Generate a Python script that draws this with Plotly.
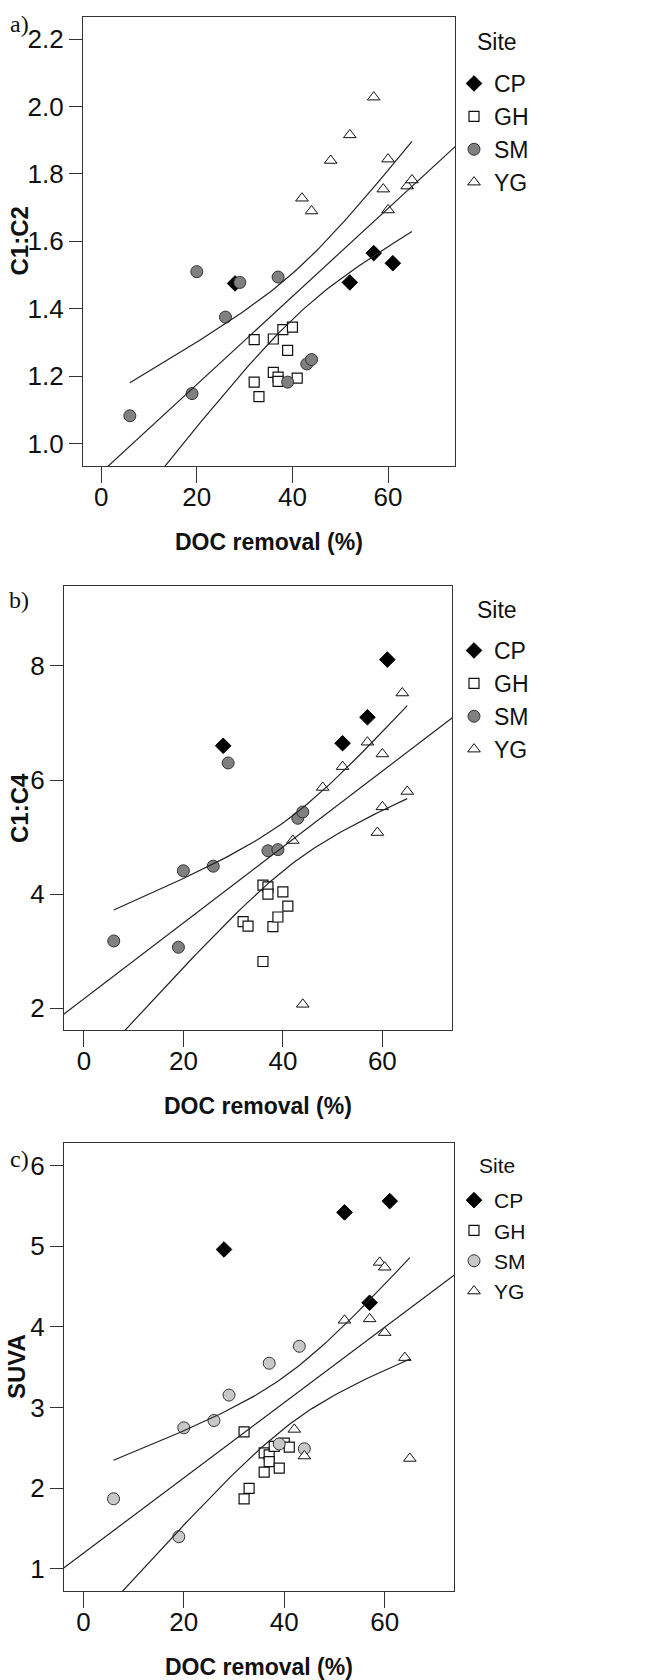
import numpy as np
import plotly.graph_objects as go

# ---------------- data ----------------
sites = ["CP", "GH", "SM", "YG"]

# a) C1:C2
cp_x_a = [28, 52, 57, 61]
cp_y_a = [1.475, 1.478, 1.565, 1.535]
gh_x_a = [32, 32, 33, 36, 36, 37, 37, 38, 39, 40, 41]
gh_y_a = [1.308, 1.182, 1.139, 1.310, 1.211, 1.197, 1.184, 1.338, 1.276, 1.345, 1.194]
sm_x_a = [6, 19, 20, 26, 29, 37, 39, 43, 44]
sm_y_a = [1.082, 1.148, 1.510, 1.375, 1.478, 1.494, 1.182, 1.236, 1.249]
yg_x_a = [42, 44, 48, 52, 57, 59, 60, 60, 64, 65]
yg_y_a = [1.728, 1.690, 1.840, 1.916, 2.028, 1.755, 1.844, 1.693, 1.764, 1.782]

# b) C1:C4
cp_x_b = [28, 52, 57, 61]
cp_y_b = [6.60, 6.645, 7.10, 8.11]
gh_x_b = [32, 33, 36, 36, 37, 37, 38, 39, 40, 41]
gh_y_b = [3.52, 3.44, 2.82, 4.157, 4.128, 4.00, 3.43, 3.60, 4.04, 3.79]
sm_x_b = [6, 19, 20, 26, 29, 37, 39, 43, 44]
sm_y_b = [3.18, 3.07, 4.41, 4.49, 6.30, 4.76, 4.78, 5.33, 5.44]
yg_x_b = [42, 44, 48, 52, 57, 59, 60, 60, 64, 65]
yg_y_b = [4.94, 2.07, 5.87, 6.235, 6.663, 5.08, 6.457, 5.53, 7.525, 5.80]

# c) SUVA
cp_x_c = [28, 52, 57, 61]
cp_y_c = [4.96, 5.42, 4.30, 5.56]
gh_x_c = [32, 32, 33, 36, 36, 37, 37, 38, 39, 40, 41]
gh_y_c = [2.70, 1.87, 2.00, 2.44, 2.20, 2.415, 2.33, 2.52, 2.25, 2.56, 2.51]
sm_x_c = [6, 19, 20, 26, 29, 37, 39, 43, 44]
sm_y_c = [1.87, 1.40, 2.75, 2.84, 3.155, 3.55, 2.55, 3.76, 2.49]
yg_x_c = [42, 44, 52, 57, 59, 60, 60, 64, 65]
yg_y_c = [2.73, 2.40, 4.083, 4.10, 4.80, 4.74, 3.93, 3.62, 2.37]

panel_labels = ["a)", "b)", "c)"]
y_titles = ["C1:C2", "C1:C4", "SUVA"]
x_title = "DOC removal (%)"
legend_title = "Site"
x_ticks = [0, 20, 40, 60]
y_ticks_a = [1.0, 1.2, 1.4, 1.6, 1.8, 2.0, 2.2]
y_ticks_b = [2, 4, 6, 8]
y_ticks_c = [1, 2, 3, 4, 5, 6]

# ---------------- style ----------------
SANS = "Liberation Sans, Arial, sans-serif"
SERIF = "Liberation Serif, Times New Roman, serif"
W, H = 645, 1680

# plot boxes in pixels: (left, top, right, bottom)
boxes = [(83, 17, 455, 466), (64, 586, 452, 1030), (64, 1143, 454, 1591)]
xranges = [[-3.8, 74.0], [-4.0, 74.0], [-3.86, 73.8]]
yranges = [[0.933, 2.266], [1.62, 9.40], [0.727, 6.28]]
sm_fill = ["#808080", "#808080", "#c8c8c8"]
site_title_y = [42, 610, 1165]
legend_tops = [62, 629, 1180]
legend_fonts = [23, 23, 21]
label_y = [24, 600, 1159]


def px_x(p):
    return p / W


def px_y(p):
    return 1 - p / H


def tcrit(df):
    z = 1.959964
    return z + (z**3 + z) / (4 * df) + (5 * z**5 + 16 * z**3 + 3 * z) / (96 * df**2)


def fit_lines(xs, ys, xr):
    x = np.asarray(xs, float)
    y = np.asarray(ys, float)
    n = len(x)
    b, a = np.polyfit(x, y, 1)
    resid = y - (a + b * x)
    s = np.sqrt(np.sum(resid**2) / (n - 2))
    sxx = np.sum((x - x.mean()) ** 2)
    t = tcrit(n - 2)
    xg = np.linspace(x.min(), x.max(), 80)
    se = s * np.sqrt(1 / n + (xg - x.mean()) ** 2 / sxx)
    yg = a + b * xg
    xl = np.array([xr[0] - 5, xr[1] + 5])
    return xl, a + b * xl, xg, yg + t * se, yg - t * se


panels = [
    dict(cp=(cp_x_a, cp_y_a), gh=(gh_x_a, gh_y_a), sm=(sm_x_a, sm_y_a), yg=(yg_x_a, yg_y_a), yt=y_ticks_a, fmt=".1f"),
    dict(cp=(cp_x_b, cp_y_b), gh=(gh_x_b, gh_y_b), sm=(sm_x_b, sm_y_b), yg=(yg_x_b, yg_y_b), yt=y_ticks_b, fmt="d"),
    dict(cp=(cp_x_c, cp_y_c), gh=(gh_x_c, gh_y_c), sm=(sm_x_c, sm_y_c), yg=(yg_x_c, yg_y_c), yt=y_ticks_c, fmt="d"),
]

fig = go.Figure()
annotations = []

for i, p in enumerate(panels):
    sfx = "" if i == 0 else str(i + 1)
    xa, ya = "x" + sfx, "y" + sfx
    leg = "legend" + sfx
    common = dict(xaxis=xa, yaxis=ya, mode="markers", legend=leg)
    fig.add_trace(go.Scatter(x=p["cp"][0], y=p["cp"][1], name=sites[0],
                             marker=dict(symbol="diamond", size=12, color="black",
                                         line=dict(color="black", width=1)), **common))
    fig.add_trace(go.Scatter(x=p["gh"][0], y=p["gh"][1], name=sites[1],
                             marker=dict(symbol="square", size=10, color="white",
                                         line=dict(color="#111", width=1.2)), **common))
    fig.add_trace(go.Scatter(x=p["sm"][0], y=p["sm"][1], name=sites[2],
                             marker=dict(symbol="circle", size=12, color=sm_fill[i],
                                         line=dict(color="#333", width=1)), **common))
    fig.add_trace(go.Scatter(x=p["yg"][0], y=p["yg"][1], name=sites[3],
                             marker=dict(symbol="triangle-up", size=11, color="white",
                                         line=dict(color="#111", width=1)), **common))
    allx = p["cp"][0] + p["gh"][0] + p["sm"][0] + p["yg"][0]
    ally = p["cp"][1] + p["gh"][1] + p["sm"][1] + p["yg"][1]
    xl, yl, xg, yu, ylo = fit_lines(allx, ally, xranges[i])
    for xx, yy in [(xl, yl), (xg, yu), (xg, ylo)]:
        fig.add_trace(go.Scatter(x=xx, y=yy, xaxis=xa, yaxis=ya, mode="lines",
                                 line=dict(color="#222", width=1.2), showlegend=False,
                                 hoverinfo="skip"))

    L, T, R, B = boxes[i]
    axcommon = dict(showline=True, linecolor="#333", linewidth=1.2, mirror=True,
                    ticks="outside", tickcolor="#333", tickwidth=1.2, showgrid=False,
                    zeroline=False, tickfont=dict(family=SANS, size=26, color="#111"))
    fig.update_layout(**{
        "xaxis" + sfx: dict(domain=[px_x(L), px_x(R)], range=xranges[i], anchor=ya,
                            tickvals=x_ticks, ticklen=16, ticklabelstandoff=-8, **axcommon),
        "yaxis" + sfx: dict(domain=[px_y(B), px_y(T)], range=yranges[i], anchor=xa,
                            tickvals=p["yt"], tickformat=p["fmt"], ticklen=13, **axcommon),
        leg: dict(font=dict(family=SANS, size=legend_fonts[i], color="#111"),
                  x=px_x(454), y=px_y(legend_tops[i]), xanchor="left", yanchor="top",
                  bgcolor="rgba(0,0,0,0)", borderwidth=0, tracegroupgap=0),
    })

    # legend title
    annotations.append(dict(text=legend_title, x=px_x(497), y=px_y(site_title_y[i]),
                            xref="paper", yref="paper", showarrow=False,
                            xanchor="center", yanchor="middle",
                            font=dict(family=SANS, size=legend_fonts[i], color="#111")))
    # panel label
    annotations.append(dict(text=panel_labels[i], x=px_x(19), y=px_y(label_y[i]),
                            xref="paper", yref="paper", showarrow=False,
                            xanchor="center", yanchor="middle",
                            font=dict(family=SERIF, size=24, color="#111")))
    # y title
    annotations.append(dict(text="<b>%s</b>" % y_titles[i], x=px_x(19 if i < 2 else 16),
                            y=px_y((T + B) / 2), xref="paper", yref="paper", showarrow=False,
                            xanchor="center", yanchor="middle",
                            textangle=-90, font=dict(family=SANS, size=24, color="#111")))
    # x title
    annotations.append(dict(text="<b>%s</b>" % x_title, x=px_x((L + R) / 2), y=px_y(B + 76),
                            xref="paper", yref="paper", showarrow=False,
                            xanchor="center", yanchor="middle",
                            font=dict(family=SANS, size=23, color="#111")))

fig.update_layout(width=W, height=H, margin=dict(l=0, r=0, t=0, b=0),
                  paper_bgcolor="white", plot_bgcolor="white",
                  annotations=annotations, showlegend=True)

fig.write_html("out.html", config={"displayModeBar": False},
               post_script="document.body.style.margin='0px';")
